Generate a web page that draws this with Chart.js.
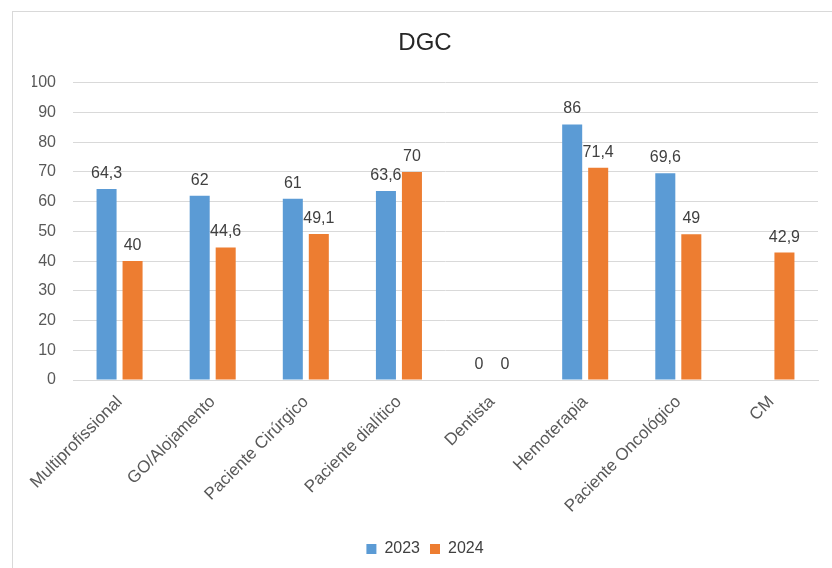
<!DOCTYPE html>
<html>
<head>
<meta charset="utf-8">
<script src="https://cdn.jsdelivr.net/npm/chart.js@4.4.1/dist/chart.umd.min.js"></script>
<style>
    body { margin: 0; background: #fff; overflow: hidden; }
    #frame {
        position: absolute;
        left: 12px;
        top: 11px;
        width: 846px;
        height: 600px;
        border: 1px solid #d9d9d9;
        background: #fff;
    }
    #wrap { position: relative; width: 846px; height: 556px; }
</style>
</head>
<body>
<div id="frame">
    <div id="wrap"><canvas id="dgcChart"></canvas></div>
</div>
<script>
// Chart data
const categories = ['Multiprofissional', 'GO/Alojamento', 'Paciente Cirúrgico', 'Paciente dialítico',
    'Dentista', 'Hemoterapia', 'Paciente Oncológico', 'CM'];
const values2023 = [64.3, 62, 61, 63.6, 0, 86, 69.6, null];
const values2024 = [40, 44.6, 49.1, 70, 0, 71.4, 49, 42.9];
const yTicks = [0, 10, 20, 30, 40, 50, 60, 70, 80, 90, 100];

const FONT = '"Liberation Sans", Arial, sans-serif';

/**
 * Draw value labels above each bar (decimal comma, like the original)
 */
const valueLabels = {
    id: 'valueLabels',
    afterDatasetsDraw(chart) {
        const ctx = chart.ctx;
        ctx.save();
        ctx.font = '16px ' + FONT;
        ctx.fillStyle = '#404040';
        ctx.textAlign = 'center';
        ctx.textBaseline = 'alphabetic';
        chart.data.datasets.forEach((ds, i) => {
            const meta = chart.getDatasetMeta(i);
            meta.data.forEach((bar, j) => {
                const v = ds.data[j];
                if (v === null || v === undefined) return;
                const text = String(v).replace('.', ',');
                ctx.fillText(text, bar.x, bar.y - 11);
            });
        });
        ctx.restore();
    }
};

document.addEventListener('DOMContentLoaded', function() {
    const ctx = document.getElementById('dgcChart').getContext('2d');
    new Chart(ctx, {
        type: 'bar',
        data: {
            labels: categories,
            datasets: [{
                label: '2023',
                data: values2023,
                backgroundColor: '#5b9bd5',
                categoryPercentage: 0.5585,
                barPercentage: 0.77
            }, {
                label: '2024',
                data: values2024,
                backgroundColor: '#ed7d31',
                categoryPercentage: 0.5585,
                barPercentage: 0.77
            }]
        },
        options: {
            responsive: true,
            maintainAspectRatio: false,
            animation: false,
            layout: {
                padding: { left: 19, right: 41, top: 0, bottom: 1 }
            },
            scales: {
                x: {
                    grid: { display: false },
                    border: { color: '#d9d9d9' },
                    ticks: {
                        color: '#595959',
                        font: { size: 17, family: FONT },
                        maxRotation: 45,
                        minRotation: 45,
                        padding: 4
                    },
                    afterFit(scale) { scale.height = 151; }
                },
                y: {
                    min: 0,
                    max: 100,
                    afterBuildTicks(scale) {
                        scale.ticks = yTicks.map(v => ({ value: v }));
                    },
                    grid: { color: '#d9d9d9', drawTicks: false },
                    border: { display: false },
                    ticks: {
                        color: '#595959',
                        font: { size: 16, family: FONT },
                        padding: 17
                    },
                    afterFit(scale) { scale.width = 41; }
                }
            },
            plugins: {
                title: {
                    display: true,
                    text: 'DGC',
                    color: '#262626',
                    font: { size: 24, family: FONT, weight: 'normal' },
                    padding: { top: 17, bottom: 25 }
                },
                legend: {
                    position: 'bottom',
                    labels: {
                        color: '#404040',
                        font: { size: 16, family: FONT },
                        boxWidth: 10,
                        boxHeight: 10,
                        padding: 10
                    }
                },
                tooltip: { enabled: false }
            }
        },
        plugins: [valueLabels]
    });
});
</script>
</body>
</html>
